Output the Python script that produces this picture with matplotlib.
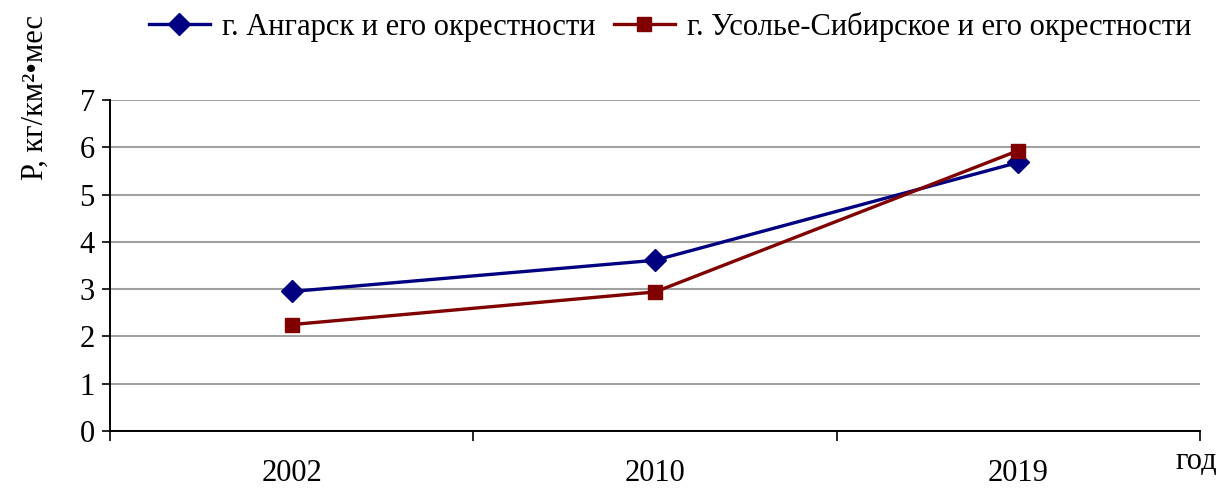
import matplotlib.pyplot as plt

years = ["2002", "2010", "2019"]
angarsk = [2.95, 3.61, 5.68]
usolye = [2.25, 2.94, 5.93]
names = ["г. Ангарск и его окрестности", "г. Усолье-Сибирское и его окрестности"]

plt.rcParams['font.family'] = ['Liberation Serif', 'DejaVu Serif']

fig = plt.figure(figsize=(12.27, 4.9), dpi=100)
ax = fig.add_axes([0.0897, 0.1204, 0.8883, 0.6756])

x = range(len(years))
ax.plot(x, angarsk, color='#000080', linewidth=2.4, marker='D',
        markersize=11, label=names[0])
ax.plot(x, usolye, color='#800000', linewidth=2.4, marker='s',
        markersize=10.5, label=names[1])

ax.set_xlim(-0.5, len(years) - 0.5)
ax.set_ylim(0, 7)
ax.set_yticks(range(0, 8))
ax.tick_params(axis='y', labelsize=22, direction='out', length=6, width=1.2, pad=5)

# category boundaries as major ticks, labels on minor ticks
ax.set_xticks([i - 0.5 for i in range(len(years) + 1)])
ax.set_xticklabels([])
ax.set_xticks(list(x), minor=True)
ax.set_xticklabels(years, minor=True)
ax.tick_params(axis='x', which='major', direction='out', length=7, width=1.2)
ax.tick_params(axis='x', which='minor', length=0, labelsize=22, pad=20)

ax.grid(axis='y', color='#a0a0a0', linewidth=1.5)
ax.set_axisbelow(True)
for s in ['top', 'right']:
    ax.spines[s].set_visible(False)
for s in ['left', 'bottom']:
    ax.spines[s].set_linewidth(1.4)

fig.text(0.029, 0.80, "Р, кг/км²•мес", fontsize=22, rotation=90,
         ha='center', va='center')
fig.text(0.975, 0.058, "год", fontsize=22, ha='center', va='center')

fig.legend(loc='center', bbox_to_anchor=(0.546, 0.945), ncol=2, frameon=False,
           fontsize=22, handlelength=2.0, columnspacing=0.6, handletextpad=0.4)

fig.savefig("out.png", dpi=100)
